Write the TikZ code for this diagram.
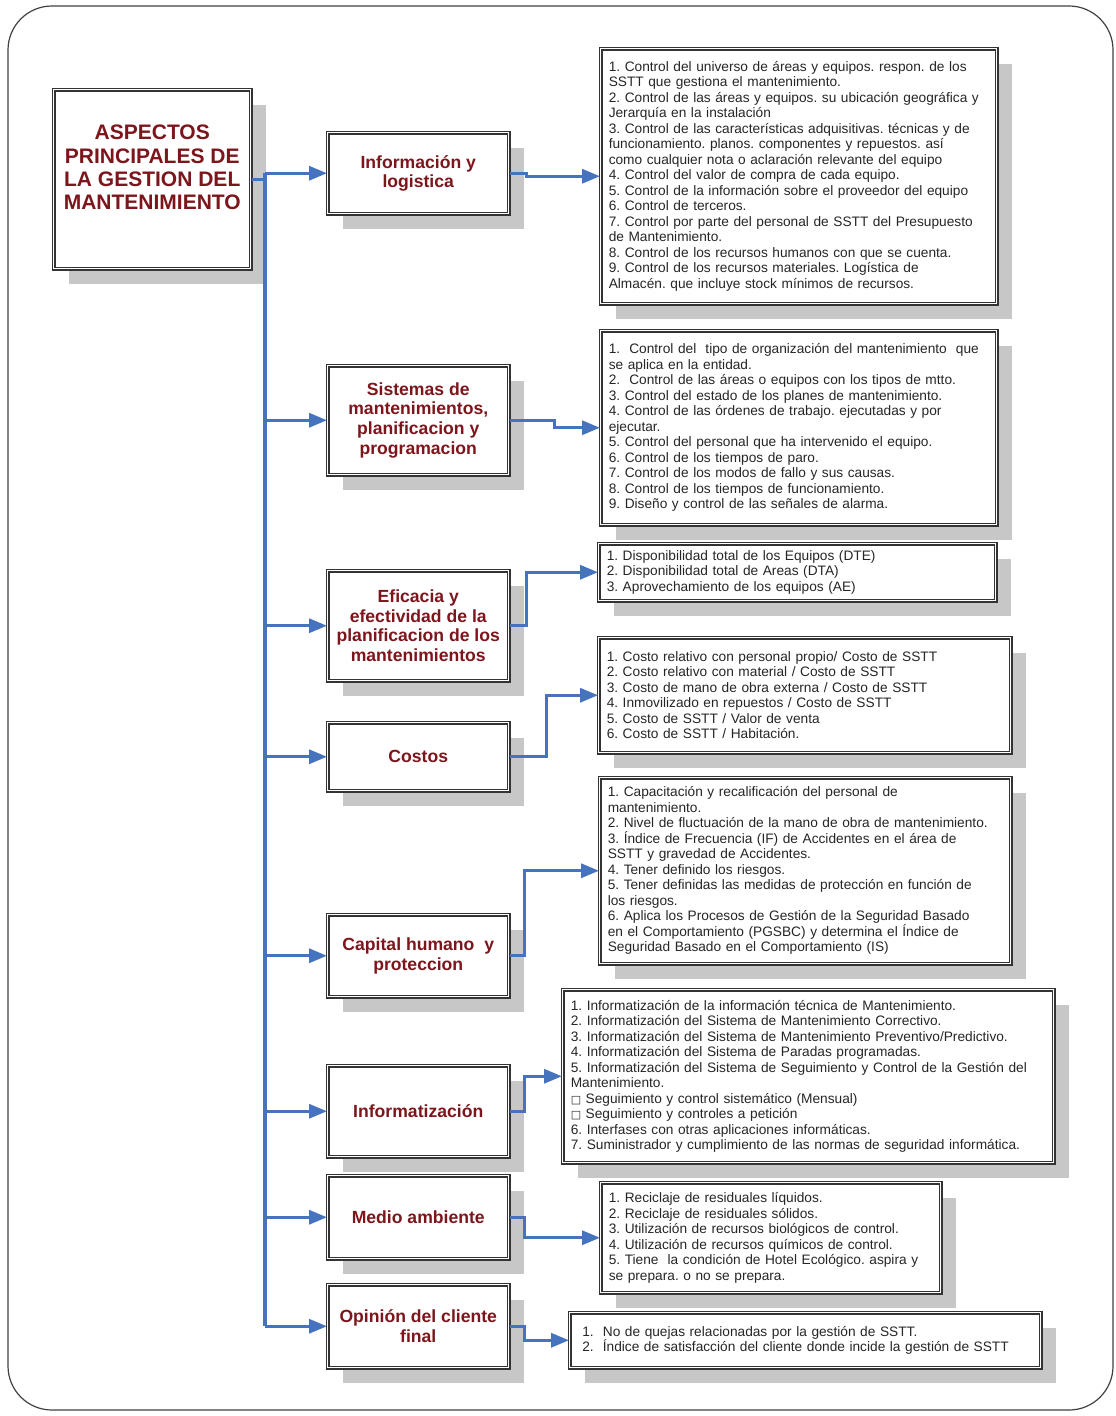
\documentclass[tikz,border=0pt]{standalone}
\usepackage{fontspec}
\setmainfont{Liberation Sans}
\newfontfamily\symfont{DejaVu Sans}
\usepackage{xcolor}
\usepackage{tikz}
\usetikzlibrary{positioning,arrows.meta,shadows}
\definecolor{linkblue}{RGB}{70,115,190}
\definecolor{titlered}{RGB}{125,22,28}
\newcommand{\sqmark}{{\symfont\fontsize{5.5}{7.75}\selectfont □}}
\frenchspacing
\tikzset{
  frame/.style   = {draw=black!75, rounded corners=22pt, line width=0.6pt},
  box/.style     = {draw=black!80, double=white, double distance=0.45pt, line width=0.75pt, fill=white,
                    drop shadow={shadow xshift=7.5pt, shadow yshift=-7.5pt, fill=black!22, opacity=1},
                    anchor=north west},
  mainbox/.style = {box, inner sep=0pt, minimum width=98.5pt, minimum height=89.5pt, align=center,
                    font=\fontsize{10.5}{11.7}\selectfont\bfseries, text=titlered},
  aspect/.style  = {box, inner sep=0pt, minimum width=90.5pt, align=center,
                    font=\fontsize{8.8}{9.8}\selectfont\bfseries, text=titlered},
  items/.style   = {box, inner xsep=4pt, inner ysep=0pt, align=left,
                    font=\fontsize{6.85}{7.75}\selectfont, text=black!85},
  link/.style    = {draw=linkblue, line width=1.6pt},
  arrowto/.style = {link, -{Triangle[length=9pt,width=7pt]}},
}

\begin{document}
\begin{tikzpicture}[x=0.5pt,y=-0.5pt]
  \useasboundingbox (0,0) rectangle (1115,1416);
  \draw[frame] (8,6) rectangle (1113,1410);

  % ----- main box -----
  \node[mainbox] (main) at (53,89) {ASPECTOS\\PRINCIPALES DE\\LA GESTION DEL\\MANTENIMIENTO\\\mbox{}};
  \coordinate (trunk) at (265,0);

  % ----- aspects -----
  \node[aspect, minimum height=40.5pt] (info)  at (327,132)  {Información y\\logistica};
  \node[aspect, minimum height=54.5pt] (sist)  at (327,365)  {Sistemas de\\mantenimientos,\\planificacion y\\programacion};
  \node[aspect, minimum height=55pt]   (efic)  at (327,570)  {Eficacia y\\efectividad de la\\planificacion de los\\mantenimientos};
  \node[aspect, minimum height=34pt]   (cost)  at (327,722)  {Costos};
  \node[aspect, minimum height=41pt]   (capt)  at (327,914)  {Capital humano\ \ y\\proteccion};
  \node[aspect, minimum height=45.5pt] (infz)  at (327,1065) {Informatización};
  \node[aspect, minimum height=41.5pt] (medio) at (327,1175) {Medio ambiente};
  \node[aspect, minimum height=41.5pt] (opin)  at (327,1284) {Opinión del cliente\\final};

  % ----- lists -----
  \node[items, text width=190pt, minimum height=127.5pt] (info-list) at (600,48) {%
    1. Control del universo de áreas y equipos. respon. de los\\
    SSTT que gestiona el mantenimiento.\\
    2. Control de las áreas y equipos. su ubicación geográfica y\\
    Jerarquía en la instalación\\
    3. Control de las características adquisitivas. técnicas y de\\
    funcionamiento. planos. componentes y repuestos. así\\
    como cualquier nota o aclaración relevante del equipo\\
    4. Control del valor de compra de cada equipo.\\
    5. Control de la información sobre el proveedor del equipo\\
    6. Control de terceros.\\
    7. Control por parte del personal de SSTT del Presupuesto\\
    de Mantenimiento.\\
    8. Control de los recursos humanos con que se cuenta.\\
    9. Control de los recursos materiales. Logística de\\
    Almacén. que incluye stock mínimos de recursos.};
  \node[items, text width=190pt, minimum height=97pt] (sist-list) at (600,330) {%
    1.\ \ Control del\ \ tipo de organización del mantenimiento\ \ que\\
    se aplica en la entidad.\\
    2.\ \ Control de las áreas o equipos con los tipos de mtto.\\
    3. Control del estado de los planes de mantenimiento.\\
    4. Control de las órdenes de trabajo. ejecutadas y por\\
    ejecutar.\\
    5. Control del personal que ha intervenido el equipo.\\
    6. Control de los tiempos de paro.\\
    7. Control de los modos de fallo y sus causas.\\
    8. Control de los tiempos de funcionamiento.\\
    9. Diseño y control de las señales de alarma.};
  \node[items, text width=190.5pt, minimum height=28.5pt] (efic-list) at (598,543) {%
    1. Disponibilidad total de los Equipos (DTE)\\
    2. Disponibilidad total de Areas (DTA)\\
    3. Aprovechamiento de los equipos (AE)};
  \node[items, text width=198pt, minimum height=57.5pt] (cost-list) at (598,637) {%
    1. Costo relativo con personal propio/ Costo de SSTT\\
    2. Costo relativo con material / Costo de SSTT\\
    3. Costo de mano de obra externa / Costo de SSTT\\
    4. Inmovilizado en repuestos / Costo de SSTT\\
    5. Costo de SSTT / Valor de venta\\
    6. Costo de SSTT / Habitación.};
  \node[items, text width=197.5pt, minimum height=93pt] (capt-list) at (599,777) {%
    1. Capacitación y recalificación del personal de\\
    mantenimiento.\\
    2. Nivel de fluctuación de la mano de obra de mantenimiento.\\
    3. Índice de Frecuencia (IF) de Accidentes en el área de\\
    SSTT y gravedad de Accidentes.\\
    4. Tener definido los riesgos.\\
    5. Tener definidas las medidas de protección en función de\\
    los riesgos.\\
    6. Aplica los Procesos de Gestión de la Seguridad Basado\\
    en el Comportamiento (PGSBC) y determina el Índice de\\
    Seguridad Basado en el Comportamiento (IS)};
  \node[items, text width=237.5pt, minimum height=86.5pt] (infz-list) at (562,989) {%
    1. Informatización de la información técnica de Mantenimiento.\\
    2. Informatización del Sistema de Mantenimiento Correctivo.\\
    3. Informatización del Sistema de Mantenimiento Preventivo/Predictivo.\\
    4. Informatización del Sistema de Paradas programadas.\\
    5. Informatización del Sistema de Seguimiento y Control de la Gestión del\\
    Mantenimiento.\\
    \sqmark\ Seguimiento y control sistemático (Mensual)\\
    \sqmark\ Seguimiento y controles a petición\\
    6. Interfases con otras aplicaciones informáticas.\\
    7. Suministrador y cumplimiento de las normas de seguridad informática.};
  \node[items, text width=162pt, minimum height=55pt] (medio-list) at (600,1182) {%
    1. Reciclaje de residuales líquidos.\\
    2. Reciclaje de residuales sólidos.\\
    3. Utilización de recursos biológicos de control.\\
    4. Utilización de recursos químicos de control.\\
    5. Tiene\ \ la condición de Hotel Ecológico. aspira y\\
    se prepara. o no se prepara.};
  \node[items, text width=227.5pt, minimum height=27.5pt] (opin-list) at (569,1312) {%
    \ 1.\ \ No de quejas relacionadas por la gestión de SSTT.\\
    \ 2.\ \ Índice de satisfacción del cliente donde incide la gestión de SSTT};

  % ----- connectors -----
  \draw[link] (main.east) -- (main.east -| trunk);
  \draw[link] (info.west -| trunk) -- (opin.west -| trunk);
  \foreach \n in {info,sist,efic,cost,capt,infz,medio,opin}
    \draw[arrowto] (\n.west -| trunk) -- (\n.west);
  \foreach \n/\dx in {info/17,sist/45,efic/17,cost/37,capt/15,infz/15,medio/15,opin/15}
    \draw[arrowto] (\n.east) -- ++(\dx,0) |- (\n-list.west);
\end{tikzpicture}
\end{document}
